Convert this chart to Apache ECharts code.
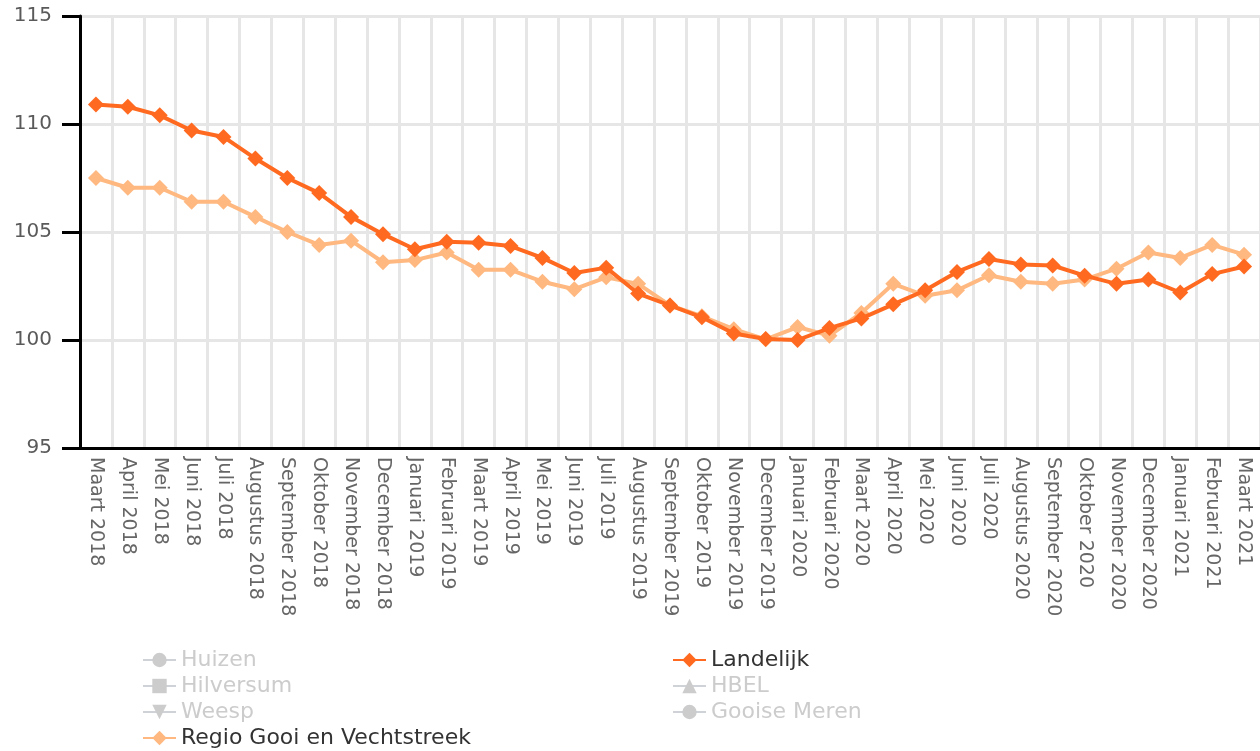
<!DOCTYPE html>
<html>
<head>
<meta charset="utf-8">
<script src="https://cdn.jsdelivr.net/npm/echarts@6/dist/echarts.min.js"></script>
<style>
    html, body { margin: 0; padding: 0; background: #fff; }
    #chart { width: 1260px; height: 751px; }
</style>
</head>
<body>
<div id="chart"></div>
<script>
var months = [
    'Maart 2018', 'April 2018', 'Mei 2018', 'Juni 2018', 'Juli 2018', 'Augustus 2018',
    'September 2018', 'Oktober 2018', 'November 2018', 'December 2018', 'Januari 2019',
    'Februari 2019', 'Maart 2019', 'April 2019', 'Mei 2019', 'Juni 2019', 'Juli 2019',
    'Augustus 2019', 'September 2019', 'Oktober 2019', 'November 2019', 'December 2019',
    'Januari 2020', 'Februari 2020', 'Maart 2020', 'April 2020', 'Mei 2020', 'Juni 2020',
    'Juli 2020', 'Augustus 2020', 'September 2020', 'Oktober 2020', 'November 2020',
    'December 2020', 'Januari 2021', 'Februari 2021', 'Maart 2021'
];

var landelijk = [
    110.9, 110.8, 110.4, 109.7, 109.4, 108.4, 107.5, 106.8, 105.7, 104.9, 104.2,
    104.55, 104.5, 104.35, 103.8, 103.1, 103.35, 102.15, 101.6, 101.05, 100.3, 100.05,
    100.0, 100.55, 101.0, 101.65, 102.3, 103.15, 103.75, 103.5, 103.45, 102.98, 102.6,
    102.8, 102.2, 103.05, 103.4
];

var regio = [
    107.5, 107.05, 107.05, 106.4, 106.4, 105.7, 105.0, 104.4, 104.6, 103.6, 103.7,
    104.05, 103.25, 103.25, 102.7, 102.35, 102.9, 102.6, 101.6, 101.1, 100.5, 100.03,
    100.6, 100.2, 101.25, 102.6, 102.05, 102.3, 103.0, 102.7, 102.6, 102.8, 103.3,
    104.05, 103.8, 104.4, 103.95
];

var yTicks = { min: 95, max: 115, step: 5 };

var legendLeft = ['Huizen', 'Hilversum', 'Weesp', 'Regio Gooi en Vechtstreek'];
var legendRight = ['Landelijk', 'HBEL', 'Gooise Meren'];

var font = 'DejaVu Sans, Verdana, sans-serif';

var chart = echarts.init(document.getElementById('chart'));

function hidden(name, symbol, rotate) {
    return {
        name: name,
        type: 'line',
        symbol: symbol,
        symbolSize: 14,
        symbolRotate: rotate || 0,
        color: '#cccccc',
        lineStyle: { width: 4 },
        data: []
    };
}

var legendCommon = {
    orient: 'vertical',
    top: 644,
    height: 110,
    itemGap: 4,
    itemWidth: 33,
    itemHeight: 18,
    inactiveColor: '#cccccc',
    textStyle: { fontSize: 22, lineHeight: 20, color: '#333', fontFamily: font }
};

var option = {
    animation: false,
    backgroundColor: '#fff',
    textStyle: { fontFamily: font },
    grid: { left: 80, top: 16, width: 1184, height: 432 },
    legend: [
        Object.assign({}, legendCommon, { left: 137, data: legendLeft }),
        Object.assign({}, legendCommon, { left: 667, data: legendRight })
    ],
    xAxis: {
        type: 'category',
        data: months,
        boundaryGap: true,
        axisLine: { lineStyle: { color: '#000', width: 3 } },
        axisTick: { show: false },
        axisLabel: {
            rotate: -90,
            interval: 0,
            margin: 9,
            fontSize: 19,
            color: '#666',
            fontFamily: font
        },
        splitLine: { show: true, interval: 0, lineStyle: { color: '#e6e6e6', width: 3 } }
    },
    yAxis: {
        type: 'value',
        min: yTicks.min,
        max: yTicks.max,
        interval: yTicks.step,
        axisLine: { show: true, lineStyle: { color: '#000', width: 3 } },
        axisTick: { show: true, length: 18, lineStyle: { color: '#000', width: 3 } },
        axisLabel: { fontSize: 20, color: '#5a5a5a', margin: 28, fontFamily: font },
        splitLine: { lineStyle: { color: '#e6e6e6', width: 3 } }
    },
    series: [
        hidden('Huizen', 'circle'),
        hidden('Hilversum', 'rect'),
        hidden('Weesp', 'triangle', 180),
        {
            name: 'Regio Gooi en Vechtstreek',
            type: 'line',
            symbol: 'diamond',
            symbolSize: 16,
            color: '#ffb880',
            lineStyle: { width: 4 },
            data: regio,
            z: 2
        },
        {
            name: 'Landelijk',
            type: 'line',
            symbol: 'diamond',
            symbolSize: 16,
            color: '#ff6a20',
            lineStyle: { width: 4 },
            data: landelijk,
            z: 3
        },
        hidden('HBEL', 'triangle'),
        hidden('Gooise Meren', 'circle')
    ]
};

option.legend[0].selected = { 'Huizen': false, 'Hilversum': false, 'Weesp': false };
option.legend[1].selected = { 'HBEL': false, 'Gooise Meren': false };

chart.setOption(option);
</script>
</body>
</html>
